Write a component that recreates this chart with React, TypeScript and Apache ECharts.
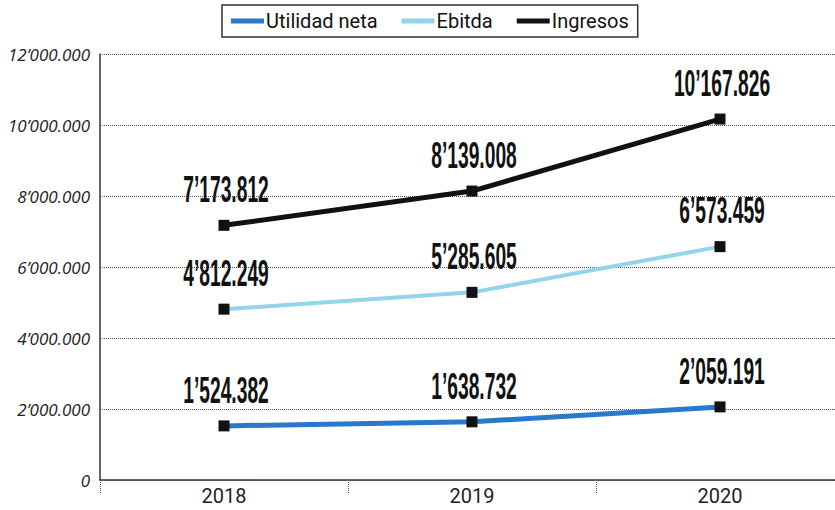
import React, { useEffect, useRef } from "react";
import * as echarts from "echarts";

const categories = ["2018", "2019", "2020"];
const utilidadNeta = [1524382, 1638732, 2059191];
const ebitda = [4812249, 5285605, 6573459];
const ingresos = [7173812, 8139008, 10167826];
const seriesNames = ["Utilidad neta", "Ebitda", "Ingresos"];
const seriesColors = ["#2a78cc", "#92d4ec", "#111111"];
const yTicks = { min: 0, max: 12000000, interval: 2000000 };

function pad3(n: number) {
  return String(n).padStart(3, "0");
}
function fmt(v: number) {
  if (v === 0) return "0";
  const m = Math.floor(v / 1e6);
  const rest = v % 1e6;
  const t = Math.floor(rest / 1000);
  const u = rest % 1000;
  if (m > 0) return `${m}’${pad3(t)}.${pad3(u)}`;
  return `${t}.${pad3(u)}`;
}

export default function App() {
  const ref = useRef<HTMLDivElement>(null);
  useEffect(() => {
    if (!ref.current) return;
    const chart = echarts.init(ref.current, null, { renderer: "svg" });
    const allData = [utilidadNeta, ebitda, ingresos];
    chart.setOption({
      animation: false,
      backgroundColor: "#ffffff",
      grid: { left: 100, width: 744, top: 54, bottom: 30, containLabel: false, outerBoundsMode: "none" },
      legend: {
        left: 222,
        top: 5,
        padding: [6, 9, 6, 9],
        itemGap: 24,
        itemWidth: 33,
        itemHeight: 5,
        borderColor: "#333",
        borderWidth: 1.5,
        textStyle: { fontFamily: "Roboto", fontSize: 20, color: "#111", padding: [0, 0, 0, -3] },
        data: seriesNames.map((n, i) => ({
          name: n,
          icon: "rect",
          itemStyle: { color: seriesColors[i] },
        })),
      },
      xAxis: {
        type: "category",
        data: categories,
        boundaryGap: true,
        axisLine: { lineStyle: { color: "#333", width: 1.5 } },
        axisTick: { show: true, length: 13, lineStyle: { color: "#555", type: "dotted", width: 1 } },
        axisLabel: { fontFamily: "Roboto", fontSize: 20, color: "#222", margin: 6 },
        splitLine: { show: false },
      },
      yAxis: {
        type: "value",
        min: yTicks.min,
        max: yTicks.max,
        interval: yTicks.interval,
        axisLine: { show: true, lineStyle: { color: "#333", width: 1.5 } },
        axisTick: { show: false },
        axisLabel: {
          fontFamily: "Open Sans",
          fontStyle: "italic",
          fontSize: 17,
          color: "#222",
          margin: 10,
          formatter: (v: number) => fmt(v),
        },
        splitLine: { show: true, lineStyle: { color: "#555", type: "dotted", width: 1 } },
      },
      series: allData.map((d, i) => ({
        name: seriesNames[i],
        type: "line",
        data: d,
        symbol: "rect",
        symbolSize: 11,
        showSymbol: true,
        z: 3 + i,
        lineStyle: { color: seriesColors[i], width: i === 1 ? 4 : 5 },
        itemStyle: { color: "#111" },
        label: { show: false },
      })),
    });

    const graphics: any[] = [];
    allData.forEach((d) => {
      d.forEach((v, j) => {
        const p = chart.convertToPixel({ xAxisIndex: 0, yAxisIndex: 0 }, [j, v]) as number[];
        graphics.push({
          type: "text",
          x: p[0] + 2,
          y: p[1] - 18,
          scaleX: 0.52,
          z: 10,
          style: {
            text: fmt(v),
            fontFamily: "Liberation Sans",
            fontWeight: "bold",
            fontSize: 37,
            fill: "#111",
            align: "center",
            verticalAlign: "bottom",
          },
        });
      });
    });
    chart.setOption({ graphic: graphics });

    return () => chart.dispose();
  }, []);
  return (
    <div
      ref={ref}
      style={{ position: "fixed", left: 0, top: 0, width: 835, height: 510, background: "#fff" }}
    />
  );
}
